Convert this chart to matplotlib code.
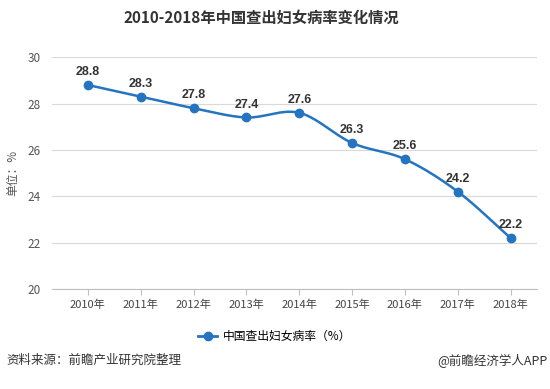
import numpy as np
import matplotlib
matplotlib.use("Agg")
import matplotlib.pyplot as plt
from matplotlib.lines import Line2D

plt.rcParams['font.family'] = ['Noto Sans CJK SC', 'DejaVu Sans']

years = ["2010年", "2011年", "2012年", "2013年", "2014年", "2015年", "2016年", "2017年", "2018年"]
rates = [28.8, 28.3, 27.8, 27.4, 27.6, 26.3, 25.6, 24.2, 22.2]
yticks = [20, 22, 24, 26, 28, 30]

LINE = "#2474c0"


def smooth(xs, ys, n=20):
    # catmull-rom curve through the points, just for drawing
    xs = np.asarray(xs, float)
    ys = np.asarray(ys, float)
    px = np.concatenate([[2 * xs[0] - xs[1]], xs, [2 * xs[-1] - xs[-2]]])
    py = np.concatenate([[2 * ys[0] - ys[1]], ys, [2 * ys[-1] - ys[-2]]])
    outx, outy = [], []
    t = np.linspace(0, 1, n)
    for i in range(1, len(px) - 2):
        for p, out in ((px, outx), (py, outy)):
            p0, p1, p2, p3 = p[i - 1], p[i], p[i + 1], p[i + 2]
            out.extend(0.5 * (2 * p1 + (-p0 + p2) * t
                              + (2 * p0 - 5 * p1 + 4 * p2 - p3) * t ** 2
                              + (-p0 + 3 * p1 - 3 * p2 + p3) * t ** 3))
    return np.array(outx), np.array(outy)


fig = plt.figure(figsize=(5.5, 3.89), dpi=100)
ax = fig.add_axes([0.0945, 0.257, 0.882, 0.596])

x = np.arange(len(years))
sx, sy = smooth(x, rates)
ax.plot(sx, sy, color=LINE, lw=1.8, zorder=3)
ax.plot(x, rates, "o", color=LINE, ms=6, zorder=4)

for xi, v in zip(x, rates):
    ax.annotate(f"{v}", (xi, v), xytext=(0, 5), textcoords="offset points",
                ha="center", va="bottom", fontsize=9, fontweight="bold", color="#333333",
                family=["Liberation Sans", "DejaVu Sans"])

ax.set_ylim(20, 30)
ax.set_yticks(yticks)
ax.set_xlim(-0.68, 8.5)
ax.set_xticks(x)
ax.set_xticklabels(years)
ax.grid(axis="y", color="#d9d9d9", lw=0.8)
ax.set_axisbelow(True)
for s in ["top", "right", "left"]:
    ax.spines[s].set_visible(False)
ax.spines["bottom"].set_color("#bfbfbf")
ax.tick_params(axis="y", length=0, labelsize=8.5, labelcolor="#555555", pad=8)
ax.tick_params(axis="x", length=4, color="#bfbfbf", labelsize=8, labelcolor="#444444")
ax.set_ylabel("单位：%", fontsize=8.5, color="#555555", labelpad=6)

fig.text(0.475, 0.955, "2010-2018年中国查出妇女病率变化情况", ha="center", va="center",
         fontsize=11, fontweight="bold", color="#333333")

handle = Line2D([0], [0], color=LINE, lw=2, marker="o", ms=6)
fig.legend([handle], ["中国查出妇女病率（%）"], loc="center", bbox_to_anchor=(0.5, 0.135),
           frameon=False, fontsize=8.5, handlelength=1.6, handletextpad=0.5,
           prop={"size": 8.5, "weight": "medium"})

fig.text(0.012, 0.073, "资料来源：前瞻产业研究院整理", ha="left", va="center",
         fontsize=9, color="#333333")
fig.text(0.995, 0.073, "@前瞻经济学人APP", ha="right", va="center",
         fontsize=9, color="#333333")

fig.savefig("out.png", dpi=100)
